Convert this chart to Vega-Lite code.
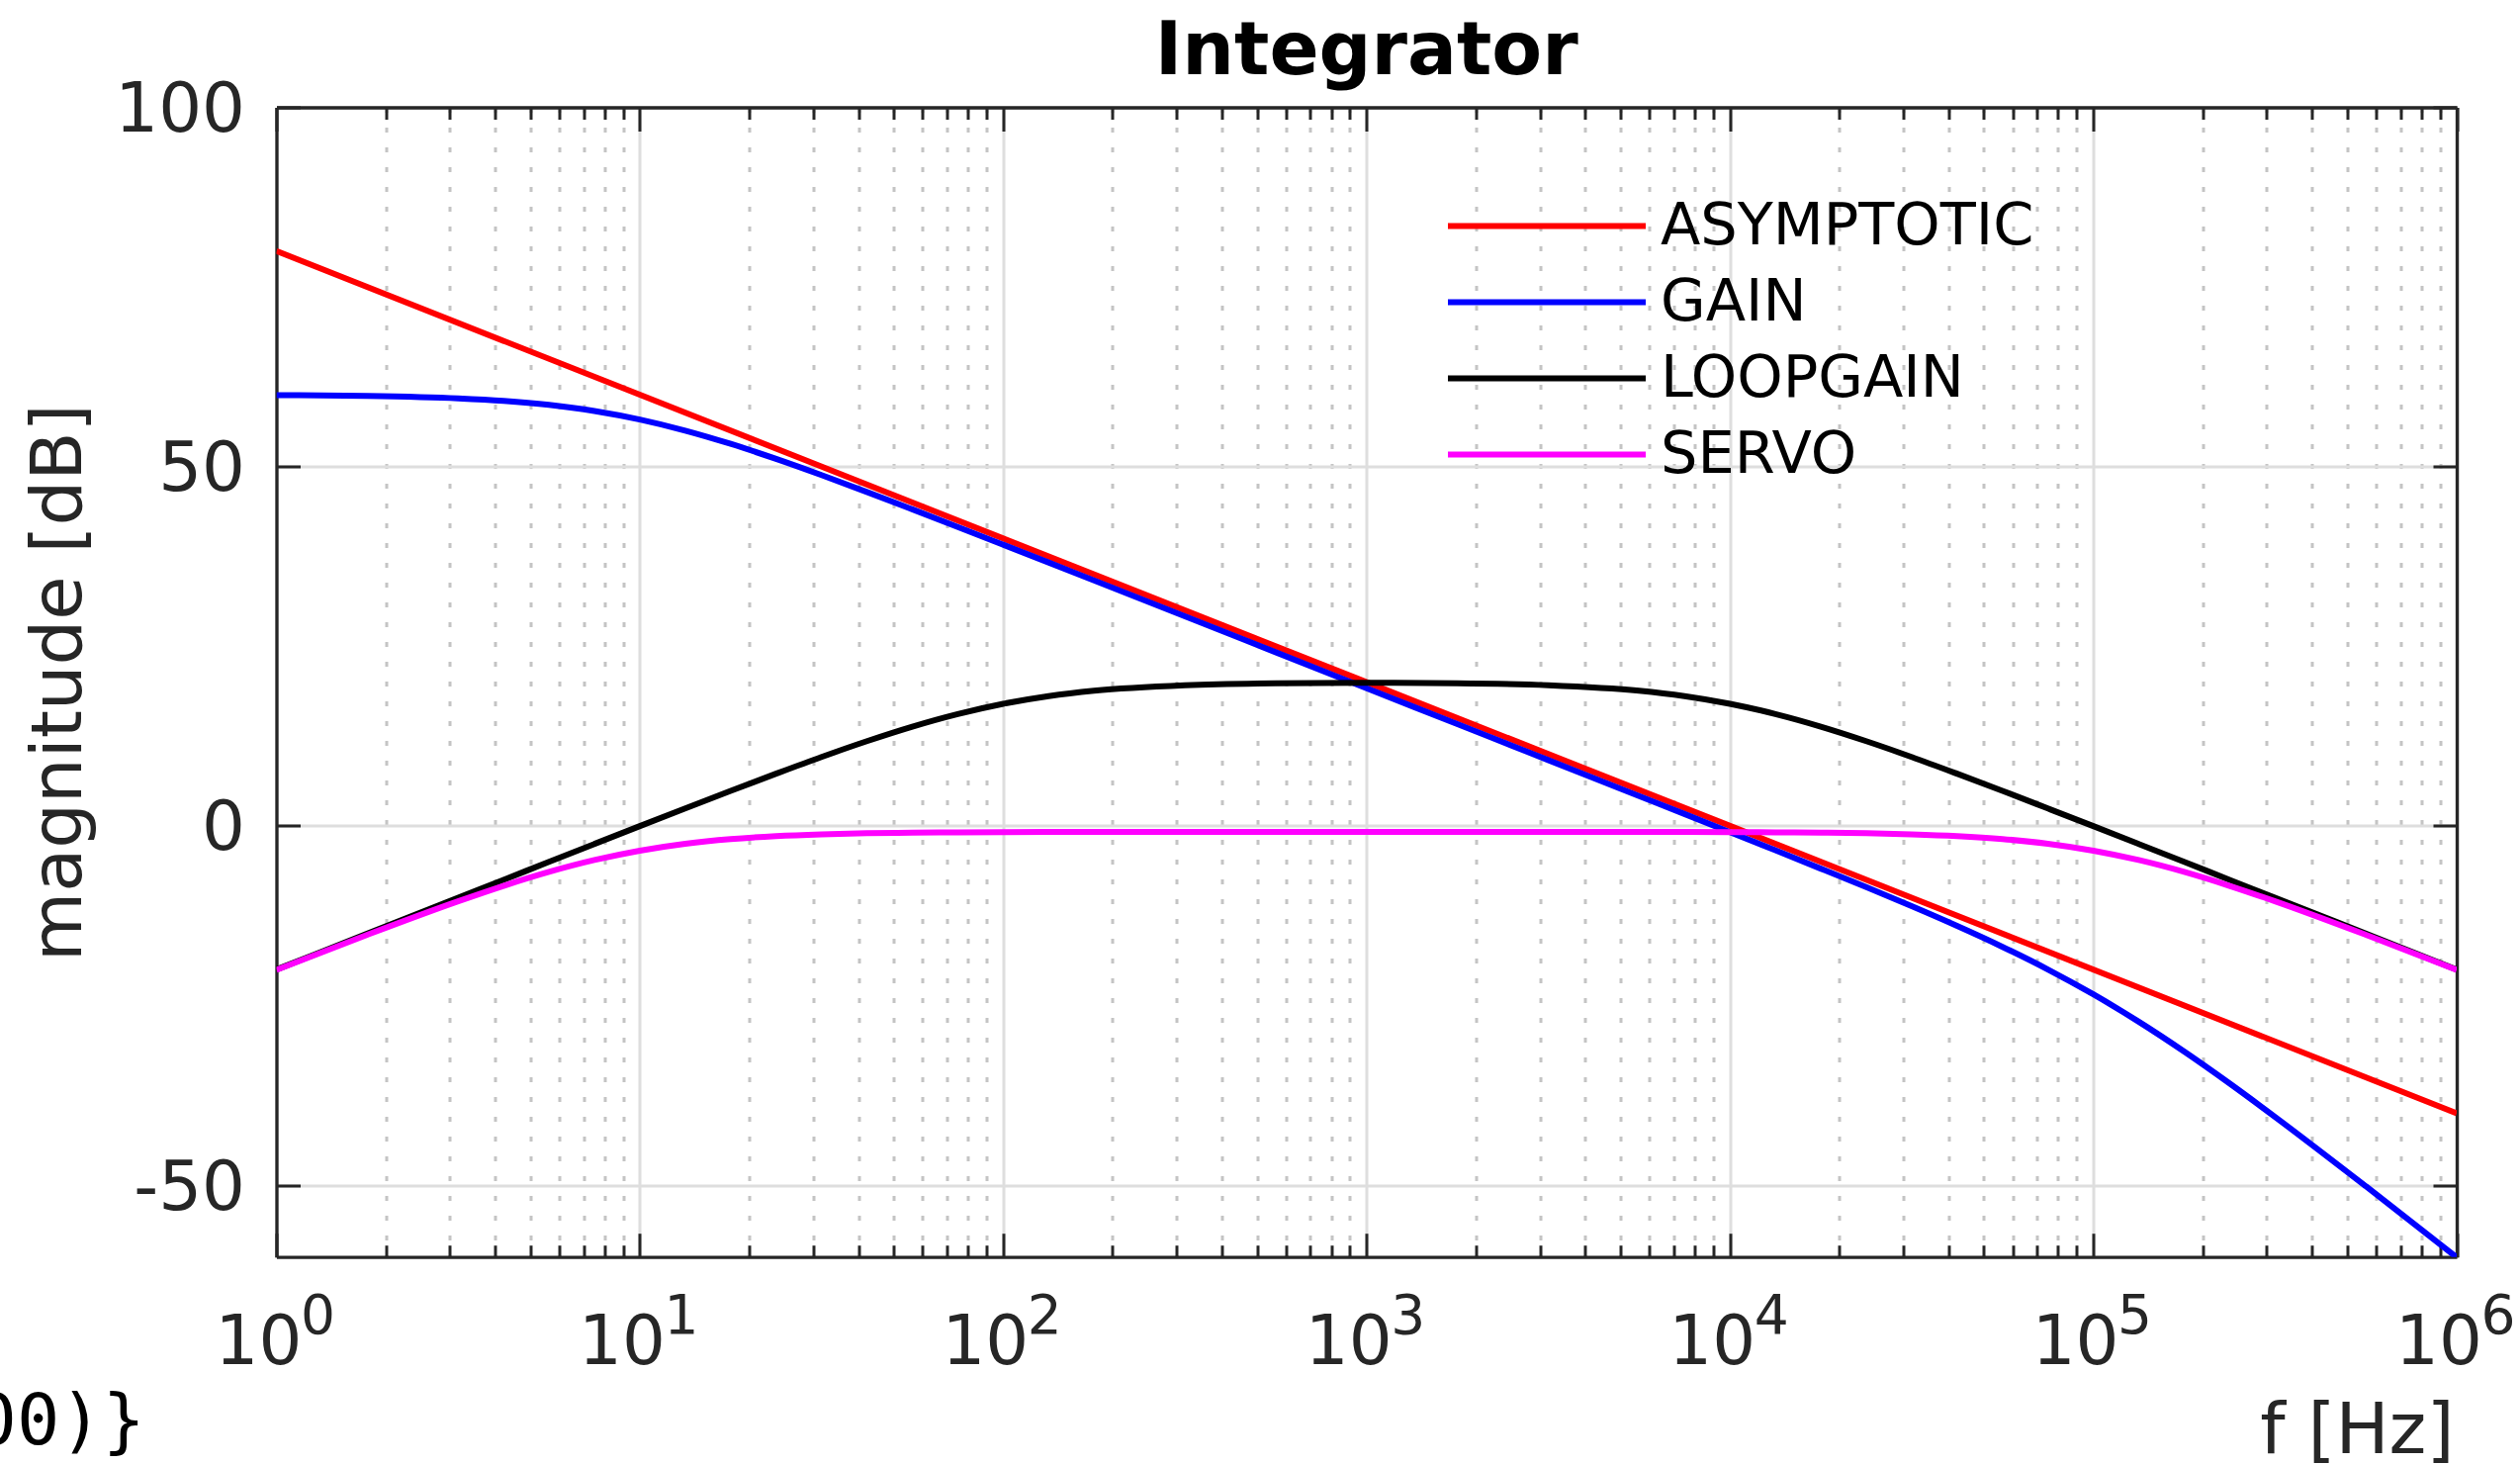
{
  "$schema": "https://vega.github.io/schema/vega-lite/v6.json",
  "width": 2204.5,
  "height": 1162.2,
  "autosize": {"type": "none"},
  "padding": {"left": 279.5, "top": 108.5, "right": 64, "bottom": 210.3},
  "background": "white",
  "config": {"view": {"stroke": null}, "font": "DejaVu Sans"},
  "datasets": {
    "curves": [
      {"series": "ASYMPTOTIC", "f": 1, "dB": 80},
      {"series": "ASYMPTOTIC", "f": 1000, "dB": 20},
      {"series": "ASYMPTOTIC", "f": 1000000, "dB": -40},
      {"series": "GAIN", "f": 1, "dB": 59.95},
      {"series": "GAIN", "f": 1.7783, "dB": 59.84},
      {"series": "GAIN", "f": 3.1623, "dB": 59.50},
      {"series": "GAIN", "f": 4.217, "dB": 59.15},
      {"series": "GAIN", "f": 5.6234, "dB": 58.59},
      {"series": "GAIN", "f": 7.4989, "dB": 57.74},
      {"series": "GAIN", "f": 10, "dB": 56.55},
      {"series": "GAIN", "f": 13.335, "dB": 55.01},
      {"series": "GAIN", "f": 17.783, "dB": 53.16},
      {"series": "GAIN", "f": 23.714, "dB": 51.07},
      {"series": "GAIN", "f": 31.623, "dB": 48.82},
      {"series": "GAIN", "f": 42.17, "dB": 46.47},
      {"series": "GAIN", "f": 56.234, "dB": 44.05},
      {"series": "GAIN", "f": 74.989, "dB": 41.60},
      {"series": "GAIN", "f": 100, "dB": 39.13},
      {"series": "GAIN", "f": 133.35, "dB": 36.65},
      {"series": "GAIN", "f": 177.83, "dB": 34.15},
      {"series": "GAIN", "f": 316.23, "dB": 29.16},
      {"series": "GAIN", "f": 562.34, "dB": 24.16},
      {"series": "GAIN", "f": 1000, "dB": 19.16},
      {"series": "GAIN", "f": 1778.3, "dB": 14.16},
      {"series": "GAIN", "f": 3162.3, "dB": 9.16},
      {"series": "GAIN", "f": 5623.4, "dB": 4.15},
      {"series": "GAIN", "f": 7498.9, "dB": 1.65},
      {"series": "GAIN", "f": 10000, "dB": -0.87},
      {"series": "GAIN", "f": 13335, "dB": -3.40},
      {"series": "GAIN", "f": 17783, "dB": -5.95},
      {"series": "GAIN", "f": 23714, "dB": -8.53},
      {"series": "GAIN", "f": 31623, "dB": -11.18},
      {"series": "GAIN", "f": 42170, "dB": -13.93},
      {"series": "GAIN", "f": 56234, "dB": -16.84},
      {"series": "GAIN", "f": 74989, "dB": -19.99},
      {"series": "GAIN", "f": 100000, "dB": -23.45},
      {"series": "GAIN", "f": 133352, "dB": -27.26},
      {"series": "GAIN", "f": 177828, "dB": -31.41},
      {"series": "GAIN", "f": 237137, "dB": -35.85},
      {"series": "GAIN", "f": 316228, "dB": -40.50},
      {"series": "GAIN", "f": 562341, "dB": -50.16},
      {"series": "GAIN", "f": 1000000, "dB": -60.05},
      {"series": "LOOPGAIN", "f": 1, "dB": -20.00},
      {"series": "LOOPGAIN", "f": 1.7783, "dB": -15.00},
      {"series": "LOOPGAIN", "f": 3.1623, "dB": -10.00},
      {"series": "LOOPGAIN", "f": 4.217, "dB": -7.51},
      {"series": "LOOPGAIN", "f": 5.6234, "dB": -5.01},
      {"series": "LOOPGAIN", "f": 7.4989, "dB": -2.52},
      {"series": "LOOPGAIN", "f": 10, "dB": -0.04},
      {"series": "LOOPGAIN", "f": 13.335, "dB": 2.42},
      {"series": "LOOPGAIN", "f": 17.783, "dB": 4.87},
      {"series": "LOOPGAIN", "f": 23.714, "dB": 7.26},
      {"series": "LOOPGAIN", "f": 31.623, "dB": 9.59},
      {"series": "LOOPGAIN", "f": 42.17, "dB": 11.79},
      {"series": "LOOPGAIN", "f": 56.234, "dB": 13.81},
      {"series": "LOOPGAIN", "f": 74.989, "dB": 15.56},
      {"series": "LOOPGAIN", "f": 100, "dB": 16.99},
      {"series": "LOOPGAIN", "f": 133.35, "dB": 18.06},
      {"series": "LOOPGAIN", "f": 177.83, "dB": 18.81},
      {"series": "LOOPGAIN", "f": 316.23, "dB": 19.58},
      {"series": "LOOPGAIN", "f": 562.34, "dB": 19.85},
      {"series": "LOOPGAIN", "f": 1000, "dB": 19.91},
      {"series": "LOOPGAIN", "f": 1778.3, "dB": 19.85},
      {"series": "LOOPGAIN", "f": 3162.3, "dB": 19.58},
      {"series": "LOOPGAIN", "f": 5623.4, "dB": 18.81},
      {"series": "LOOPGAIN", "f": 7498.9, "dB": 18.06},
      {"series": "LOOPGAIN", "f": 10000, "dB": 16.99},
      {"series": "LOOPGAIN", "f": 13335, "dB": 15.56},
      {"series": "LOOPGAIN", "f": 17783, "dB": 13.81},
      {"series": "LOOPGAIN", "f": 23714, "dB": 11.79},
      {"series": "LOOPGAIN", "f": 31623, "dB": 9.59},
      {"series": "LOOPGAIN", "f": 42170, "dB": 7.26},
      {"series": "LOOPGAIN", "f": 56234, "dB": 4.87},
      {"series": "LOOPGAIN", "f": 74989, "dB": 2.42},
      {"series": "LOOPGAIN", "f": 100000, "dB": -0.04},
      {"series": "LOOPGAIN", "f": 133352, "dB": -2.52},
      {"series": "LOOPGAIN", "f": 177828, "dB": -5.01},
      {"series": "LOOPGAIN", "f": 237137, "dB": -7.51},
      {"series": "LOOPGAIN", "f": 316228, "dB": -10.00},
      {"series": "LOOPGAIN", "f": 562341, "dB": -15.00},
      {"series": "LOOPGAIN", "f": 1000000, "dB": -20.00},
      {"series": "SERVO", "f": 1, "dB": -20.05},
      {"series": "SERVO", "f": 1.7783, "dB": -15.16},
      {"series": "SERVO", "f": 3.1623, "dB": -10.50},
      {"series": "SERVO", "f": 4.217, "dB": -8.35},
      {"series": "SERVO", "f": 5.6234, "dB": -6.41},
      {"series": "SERVO", "f": 7.4989, "dB": -4.76},
      {"series": "SERVO", "f": 10, "dB": -3.45},
      {"series": "SERVO", "f": 13.335, "dB": -2.49},
      {"series": "SERVO", "f": 17.783, "dB": -1.84},
      {"series": "SERVO", "f": 23.714, "dB": -1.43},
      {"series": "SERVO", "f": 31.623, "dB": -1.18},
      {"series": "SERVO", "f": 42.17, "dB": -1.03},
      {"series": "SERVO", "f": 56.234, "dB": -0.95},
      {"series": "SERVO", "f": 74.989, "dB": -0.90},
      {"series": "SERVO", "f": 100, "dB": -0.87},
      {"series": "SERVO", "f": 133.35, "dB": -0.86},
      {"series": "SERVO", "f": 177.83, "dB": -0.85},
      {"series": "SERVO", "f": 316.23, "dB": -0.84},
      {"series": "SERVO", "f": 562.34, "dB": -0.84},
      {"series": "SERVO", "f": 1000, "dB": -0.84},
      {"series": "SERVO", "f": 1778.3, "dB": -0.84},
      {"series": "SERVO", "f": 3162.3, "dB": -0.84},
      {"series": "SERVO", "f": 5623.4, "dB": -0.85},
      {"series": "SERVO", "f": 7498.9, "dB": -0.86},
      {"series": "SERVO", "f": 10000, "dB": -0.87},
      {"series": "SERVO", "f": 13335, "dB": -0.90},
      {"series": "SERVO", "f": 17783, "dB": -0.95},
      {"series": "SERVO", "f": 23714, "dB": -1.03},
      {"series": "SERVO", "f": 31623, "dB": -1.18},
      {"series": "SERVO", "f": 42170, "dB": -1.43},
      {"series": "SERVO", "f": 56234, "dB": -1.84},
      {"series": "SERVO", "f": 74989, "dB": -2.49},
      {"series": "SERVO", "f": 100000, "dB": -3.45},
      {"series": "SERVO", "f": 133352, "dB": -4.76},
      {"series": "SERVO", "f": 177828, "dB": -6.41},
      {"series": "SERVO", "f": 237137, "dB": -8.35},
      {"series": "SERVO", "f": 316228, "dB": -10.50},
      {"series": "SERVO", "f": 562341, "dB": -15.16},
      {"series": "SERVO", "f": 1000000, "dB": -20.05}
    ],
    "exponents": [
      {"f": 1, "e": "0"},
      {"f": 10, "e": "1"},
      {"f": 100, "e": "2"},
      {"f": 1000, "e": "3"},
      {"f": 10000, "e": "4"},
      {"f": 100000, "e": "5"},
      {"f": 1000000, "e": "6"}
    ],
    "fragment": [{"t": "00)}"}],
    "heading": [{"t": "Integrator"}]
  },
  "layer": [
    {
      "data": {"name": "curves"},
      "mark": {"type": "line", "strokeWidth": 6, "interpolate": "monotone", "clip": true},
      "encoding": {
        "x": {
          "field": "f", "type": "quantitative",
          "scale": {"type": "log", "domain": [1, 1000000], "nice": false},
          "axis": {
            "orient": "bottom",
            "values": [1,2,3,4,5,6,7,8,9,10,20,30,40,50,60,70,80,90,100,200,300,400,500,600,700,800,900,1000,2000,3000,4000,5000,6000,7000,8000,9000,10000,20000,30000,40000,50000,60000,70000,80000,90000,100000,200000,300000,400000,500000,600000,700000,800000,900000,1000000],
            "labelExpr": "indexof([1,10,100,1000,10000,100000,1000000], datum.value) >= 0 ? '10' : ''",
            "labelFont": "DejaVu Sans", "labelFontSize": 69, "labelColor": "#262626",
            "labelBaseline": "top", "labelAlign": "center", "labelOffset": -18.5, "labelPadding": 76.8,
            "labelFlush": false, "labelOverlap": false,
            "tickSize": {"condition": {"test": "indexof([1,10,100,1000,10000,100000,1000000], datum.value) >= 0", "value": -24}, "value": -12},
            "tickColor": "#262626", "tickWidth": 3,
            "domainColor": "#262626", "domainWidth": 3.3,
            "grid": true,
            "gridColor": {"condition": {"test": "indexof([1,10,100,1000,10000,100000,1000000], datum.value) >= 0", "value": "#dedede"}, "value": "#c4c4c4"},
            "gridDash": {"condition": {"test": "indexof([1,10,100,1000,10000,100000,1000000], datum.value) >= 0", "value": []}, "value": [5, 15]},
            "gridWidth": 3,
            "title": "f [Hz]", "titleFont": "DejaVu Sans", "titleFontSize": 72, "titleFontWeight": "normal", "titleColor": "#262626",
            "titleAlign": "right", "titleBaseline": "alphabetic", "titleX": 2201.5, "titleY": 197.3
          }
        },
        "y": {
          "field": "dB", "type": "quantitative",
          "scale": {"domain": [-60, 100], "nice": false, "zero": false},
          "axis": {
            "orient": "left",
            "values": [-50, 0, 50, 100],
            "labelExpr": "'' + datum.value",
            "labelFont": "DejaVu Sans", "labelFontSize": 69, "labelColor": "#262626",
            "labelPadding": 56, "labelOffset": 3, "labelFlush": false, "labelOverlap": false,
            "tickSize": -24, "tickColor": "#262626", "tickWidth": 3,
            "domainColor": "#262626", "domainWidth": 3.3,
            "grid": true, "gridColor": "#dedede", "gridWidth": 3,
            "title": "magnitude [dB]", "titleFont": "DejaVu Sans", "titleFontSize": 72, "titleFontWeight": "normal", "titleColor": "#262626",
            "titleAlign": "center", "titleBaseline": "alphabetic", "titleAngle": -90, "titleX": -197.8, "titleY": 581.1
          }
        },
        "color": {
          "field": "series", "type": "nominal",
          "scale": {"domain": ["ASYMPTOTIC", "GAIN", "LOOPGAIN", "SERVO"], "range": ["#ff0000", "#0000ff", "#000000", "#ff00ff"]},
          "legend": {
            "orient": "none", "legendX": 1181.5, "legendY": 81.5, "title": null, "padding": 0,
            "direction": "vertical",
            "symbolType": "stroke", "symbolSize": 40000, "symbolStrokeWidth": 6,
            "clipHeight": 77, "rowPadding": 0,
            "labelFont": "DejaVu Sans", "labelFontSize": 59, "labelColor": "#000000", "labelOffset": 12, "labelLimit": 1000
          }
        }
      }
    },
    {
      "data": {"name": "exponents"},
      "mark": {"type": "text", "dx": 42, "align": "center", "baseline": "alphabetic", "fontSize": 55, "font": "DejaVu Sans", "color": "#262626"},
      "encoding": {
        "x": {
          "field": "f", "type": "quantitative",
          "scale": {"type": "log", "domain": [1, 1000000], "nice": false},
          "axis": {
            "orient": "top",
            "values": [1,2,3,4,5,6,7,8,9,10,20,30,40,50,60,70,80,90,100,200,300,400,500,600,700,800,900,1000,2000,3000,4000,5000,6000,7000,8000,9000,10000,20000,30000,40000,50000,60000,70000,80000,90000,100000,200000,300000,400000,500000,600000,700000,800000,900000,1000000],
            "labels": false, "grid": false, "title": null,
            "tickSize": {"condition": {"test": "indexof([1,10,100,1000,10000,100000,1000000], datum.value) >= 0", "value": -24}, "value": -12},
            "tickColor": "#262626", "tickWidth": 3,
            "domainColor": "#262626", "domainWidth": 3.3
          }
        },
        "y": {
          "datum": -70.64, "type": "quantitative",
          "scale": {"domain": [-60, 100], "nice": false, "zero": false},
          "axis": {
            "orient": "right",
            "values": [-50, 0, 50, 100],
            "labels": false, "grid": false, "title": null,
            "tickSize": -24, "tickColor": "#262626", "tickWidth": 3,
            "domainColor": "#262626", "domainWidth": 3.3
          }
        },
        "text": {"field": "e"}
      }
    },
    {
      "data": {"name": "fragment"},
      "mark": {"type": "text", "align": "right", "baseline": "alphabetic", "fontSize": 72, "font": "DejaVu Sans Mono", "color": "#000000"},
      "encoding": {
        "x": {"datum": 0.4357, "type": "quantitative", "scale": {"type": "log", "domain": [1, 1000000], "nice": false}, "axis": null},
        "y": {"datum": -86.05, "type": "quantitative", "scale": {"domain": [-60, 100], "nice": false, "zero": false}, "axis": null},
        "text": {"field": "t"}
      }
    },
    {
      "data": {"name": "heading"},
      "mark": {"type": "text", "align": "center", "baseline": "alphabetic", "fontSize": 74, "fontWeight": "bold", "font": "DejaVu Sans", "color": "#000000"},
      "encoding": {
        "x": {"datum": 1000, "type": "quantitative", "scale": {"type": "log", "domain": [1, 1000000], "nice": false}, "axis": null},
        "y": {"datum": 104.61, "type": "quantitative", "scale": {"domain": [-60, 100], "nice": false, "zero": false}, "axis": null},
        "text": {"field": "t"}
      }
    }
  ],
  "resolve": {"axis": {"x": "independent", "y": "independent"}}
}
